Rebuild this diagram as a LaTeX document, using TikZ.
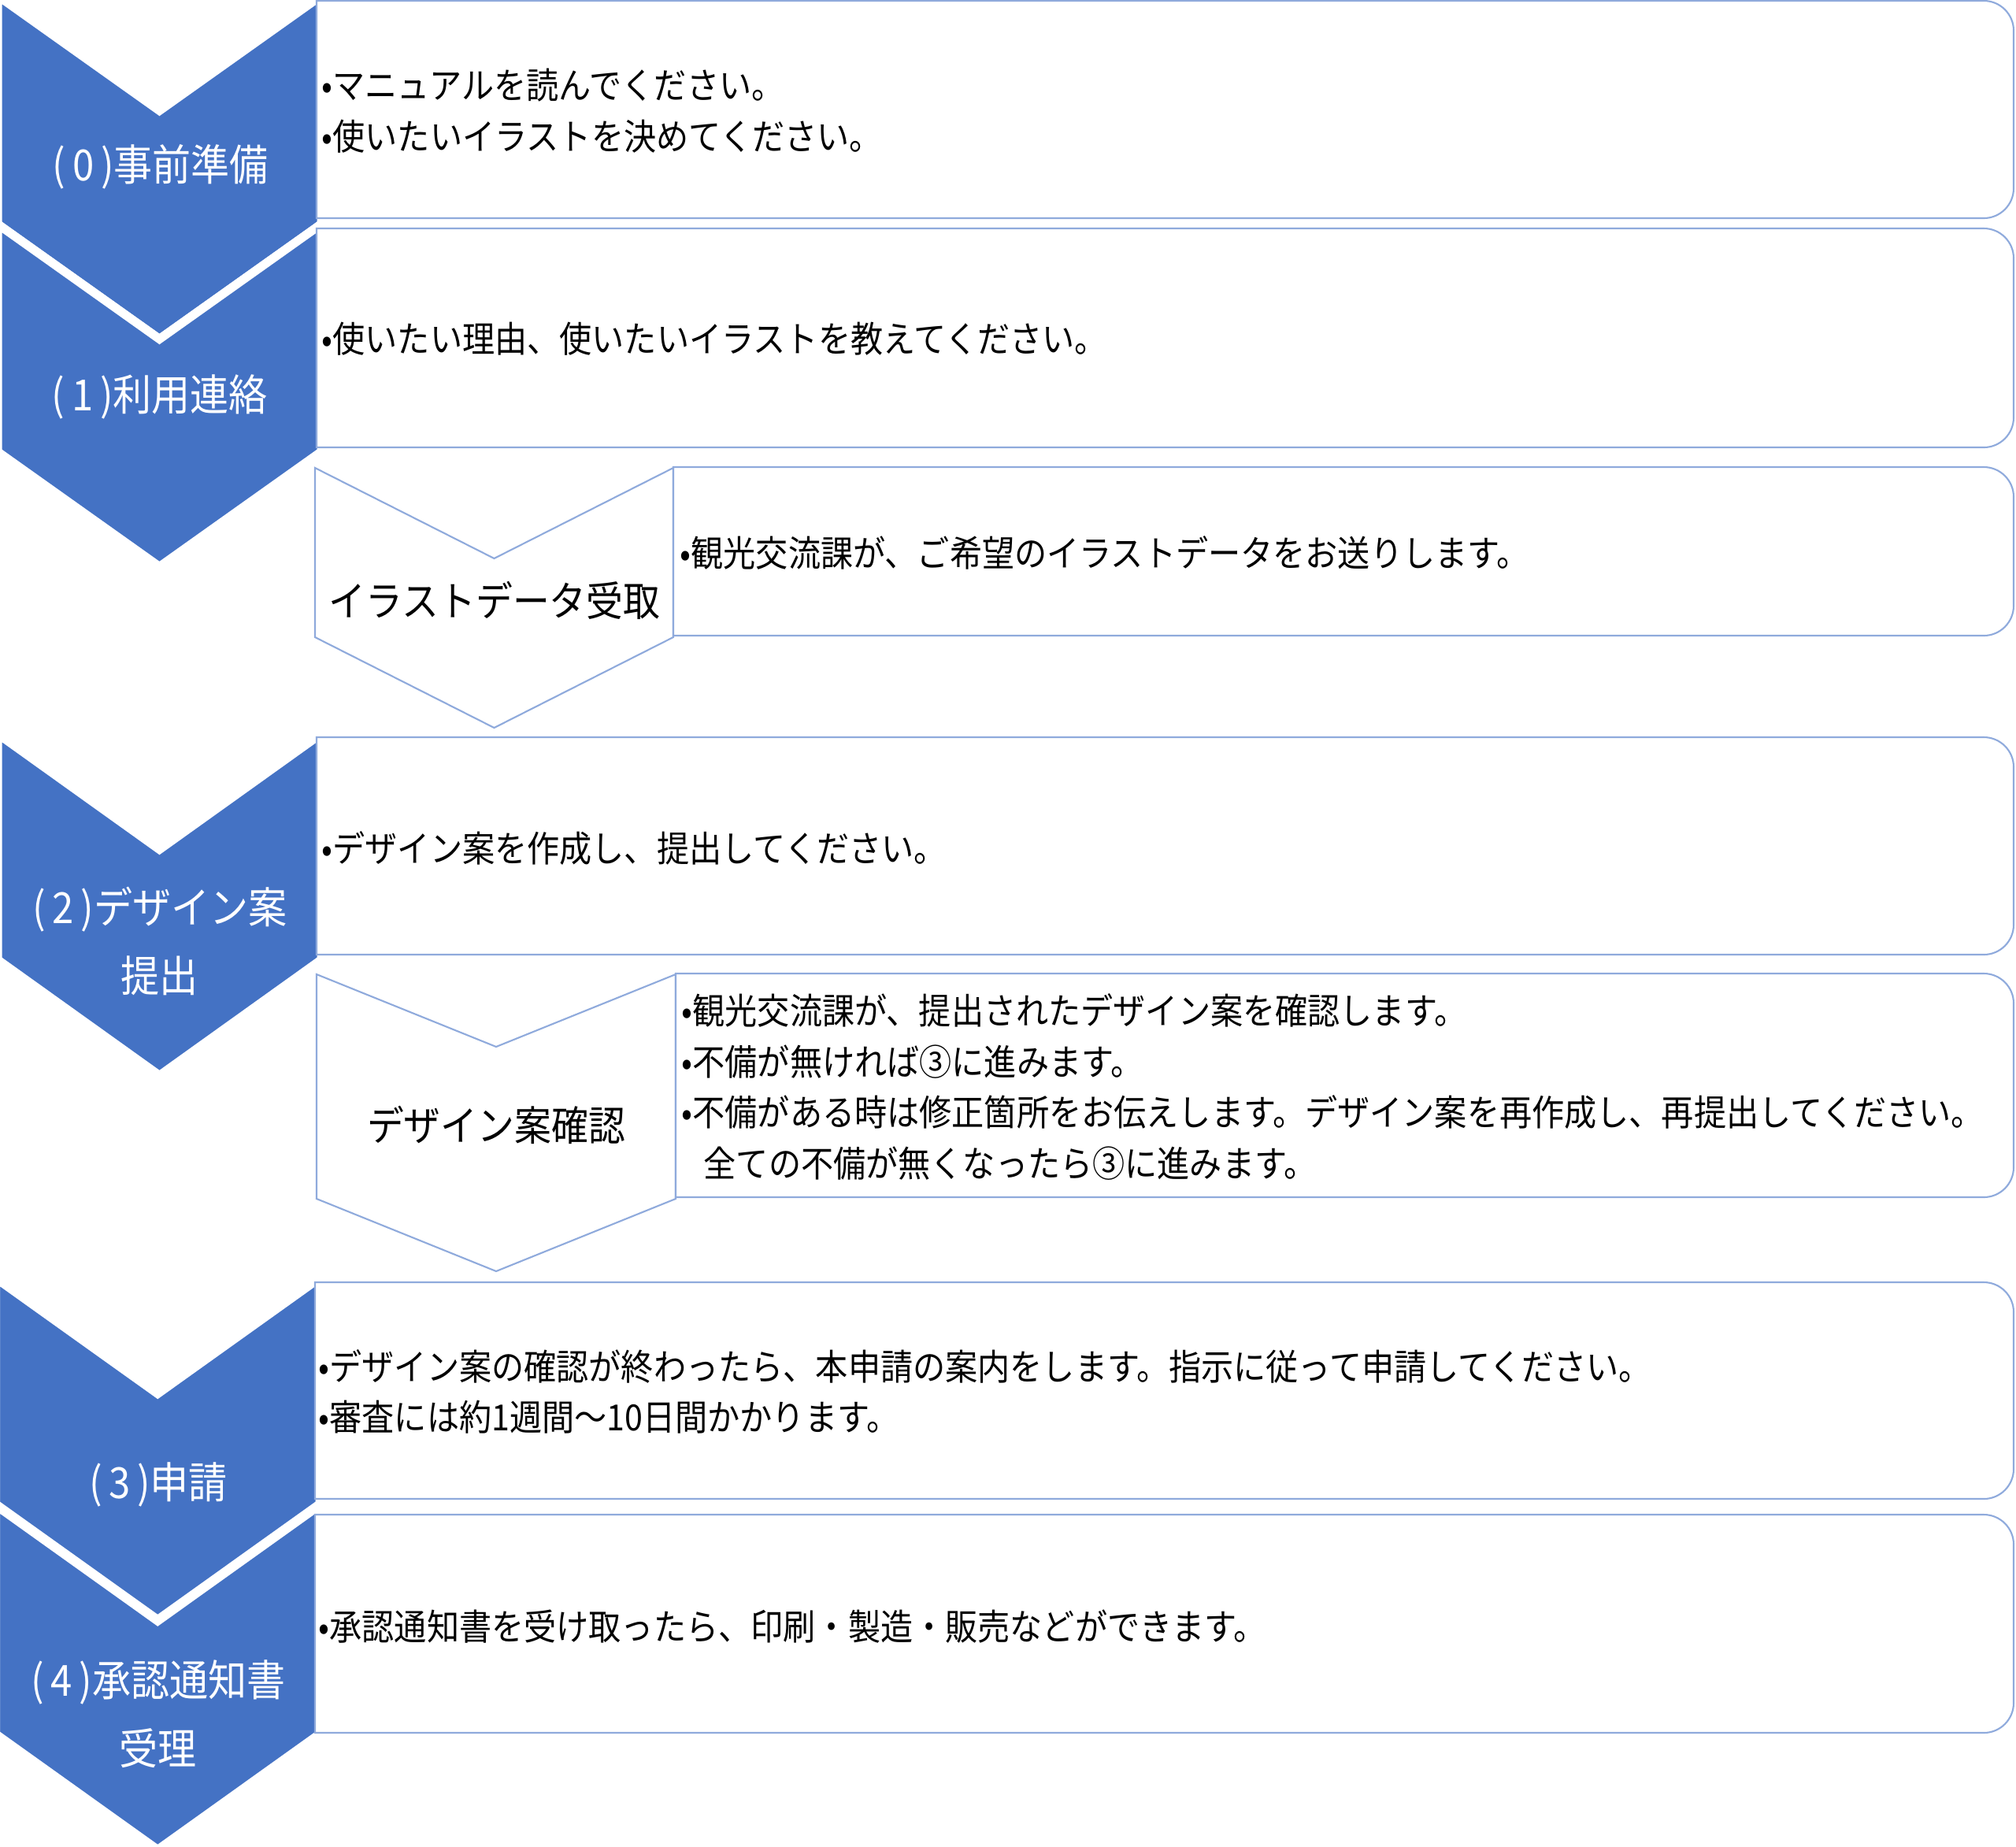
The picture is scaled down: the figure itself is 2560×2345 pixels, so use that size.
\documentclass[tikz,border=0pt]{standalone}
\usepackage{fontspec}
\setmainfont{Noto Sans CJK JP}[FakeStretch=0.9]
\usepackage{tikz}
\usetikzlibrary{calc}
\definecolor{stepblue}{HTML}{4472C4}
\definecolor{lineblue}{HTML}{8FAADC}
\newcommand{\stepno}[1]{(\kern0.16em#1\kern0.16em)}

\begin{document}
\begin{tikzpicture}[x=0.01cm, y=-0.01cm,
    stepchev/.style={fill=stepblue, draw=white, line width=0.11cm},
    subchev/.style={fill=white, draw=lineblue, line width=0.6pt},
    listbox/.style={fill=white, draw=lineblue, line width=0.6pt},
    boxtext/.style={anchor=west, inner sep=0pt, align=left,
      font=\fontsize{13pt}{18.4pt}\selectfont},
    steptext/.style={text=white, align=center, inner sep=0pt,
      font=\fontsize{15.5pt}{24.6pt}\selectfont},
    subtext/.style={align=center, inner sep=0pt,
      font=\fontsize{14.8pt}{24.6pt}\selectfont}]

    \useasboundingbox (0,0) rectangle (2560,2345);

    \foreach \xl/\xr/\t/\b/\d in {-3/408/-5.5/284.5/146,
      -3/408/284.5/573.5/146, -3/408/931.5/1218.5/147,
      -5.5/406/1622.5/1909.5/147, -5.5/406/1911/2201.5/147} {
      \path [stepchev] (\xl,\t) -- ({(\xl+\xr)/2},{\t+\d}) -- (\xr,\t)
        -- (\xr,\b) -- ({(\xl+\xr)/2},{\b+\d}) -- (\xl,\b) -- cycle;
    }

    \foreach \xl/\xr/\t/\b/\d in {400/855/594/809/115, 402/858/1237/1522/92} {
      \path [subchev] (\xl,\t) -- ({(\xl+\xr)/2},{\t+\d}) -- (\xr,\t)
        -- (\xr,\b) -- ({(\xl+\xr)/2},{\b+\d}) -- (\xl,\b) -- cycle;
    }

    \foreach \l/\t/\b in {402/1/277, 402/290/568, 855/593/807, 402/936/1212,
      858/1236/1520, 400/1628/1903, 400/1923/2200} {
      \path [listbox] (\l,\t) -- (2519,\t)
        arc [start angle=90, end angle=0, radius=0.38cm] -- (2557,{\b-38})
        arc [start angle=0, end angle=-90, radius=0.38cm] -- (\l,\b) -- cycle;
    }

    \node [steptext] (prep)    at (204,212)  {\stepno{0}事前準備};
    \node [steptext] (contact) at (203,504)  {\stepno{1}利用連絡};
    \node [subtext]  (receive) at (628,762)  {イラストデータ受取};
    \node [steptext] (draft)   at (203,1195) {\stepno{2}デザイン案\\提出};
    \node [subtext]  (check)   at (630,1428) {デザイン案確認};
    \node [steptext] (apply)   at (201,1885) {\stepno{3}申請};
    \node [steptext] (approve) at (201,2176) {\stepno{4}承認通知書\\受理};

    \node [boxtext] (prep-text) at (408,141)
      {•マニュアルを読んでください。\\•使いたいイラストを決めてください。};
    \node [boxtext] (contact-text) at (408,430)
      {•使いたい理由、使いたいイラストを教えてください。};
    \node [boxtext] (receive-text) at (863,702)
      {•観光交流課が、ご希望のイラストデータをお送りします。};
    \node [boxtext] (draft-text) at (408,1077)
      {•デザイン案を作成し、提出してください。};
    \node [boxtext] (check-text) at (865,1380)
      {•観光交流課が、提出されたデザイン案を確認します。\\
       •不備が無ければ③に進みます。\\
       •不備がある時は修正箇所をお伝えします。デザイン案を再作成し、再提出してください。\\
       \hspace*{0.28cm}全ての不備が無くなったら③に進みます。};
    \node [boxtext] (apply-text) at (404,1767)
      {•デザイン案の確認が終わったら、本申請の案内をします。指示に従って申請してください。\\
       •審査には約1週間～10日間かかります。};
    \node [boxtext] (approve-text) at (404,2065)
      {•承認通知書を受け取ったら、印刷・製造・販売などができます。};
\end{tikzpicture}
\end{document}
